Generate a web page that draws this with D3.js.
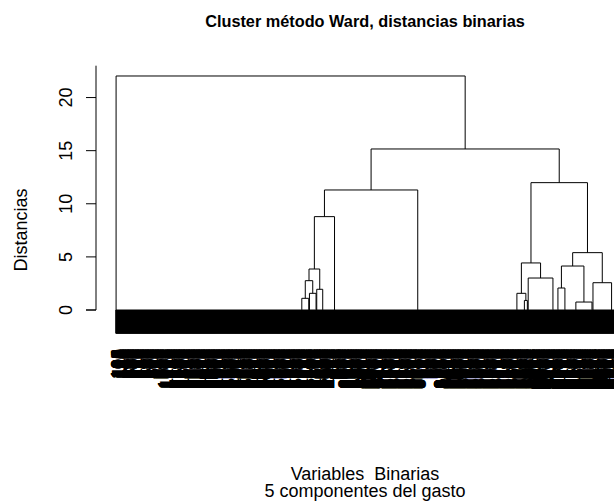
<!DOCTYPE html>
<html>
<head>
<meta charset="utf-8">
<script src="https://cdn.jsdelivr.net/npm/d3@7"></script>
<style>
  html, body { margin: 0; padding: 0; background: #fff; }
  svg { display: block; font-family: "Liberation Sans", Arial, Helvetica, sans-serif; }
</style>
</head>
<body>
<svg id="chart" width="614" height="502"></svg>
<script>
// Rows sharing the same binary pattern, one entry per pattern in dendrogram order.
// Each pattern lists its row names as [first, last] runs.
const groupLabelRuns = [
  [[104, 387], [1201, 1616], [2305, 2722]],
  [[2731, 2772]],
  [[2780, 2783]],
  [[2790, 2829]],
  [[2835, 2838]],
  [[2845, 2880]],
  [[2890, 2912], [401, 448]],
  [[452, 505], [2920, 3366]],
  [[512, 638], [3380, 3849]],
  [[3855, 3899]],
  [[3905, 3922]],
  [[3930, 3934]],
  [[4001, 4149]],
  [[4160, 4189]],
  [[4200, 4241]],
  [[4250, 4315]],
  [[4320, 4416]],
  [[4425, 4430]],
  [[4440, 4551]],
  [[4560, 4576]]
];

// Ward merges between patterns: [left, right, height]
// negative = pattern number (1-based), positive = earlier merge row (1-based)
const merges = [
  [-2, -3, 1.10],
  [-4, -5, 1.57],
  [-6, -7, 1.95],
  [1, 2, 2.76],
  [4, 3, 3.86],
  [5, -8, 8.79],
  [6, -9, 11.30],
  [-11, -12, 0.90],
  [-10, 8, 1.57],
  [-13, -14, 3.01],
  [9, 10, 4.43],
  [-15, -16, 2.07],
  [-17, -18, 0.75],
  [12, 13, 4.14],
  [-19, -20, 2.57],
  [14, 15, 5.40],
  [11, 16, 11.99],
  [7, 17, 15.16],
  [-1, 18, 22.03]
];

const yTicks = [0, 5, 10, 15, 20];
const mainTitle = "Cluster método Ward, distancias binarias";
const xLabelLines = ["Variables  Binarias", "5 componentes del gasto"];
const yLabel = "Distancias";

// ---------------------------------------------------------------
const svg = d3.select("#chart");
const plot = { left: 96, right: 634, top: 65.7, bottom: 343.7 };
const ink = "#000";

// leaves in order
const leaves = [];
groupLabelRuns.forEach((runs, g) => {
  runs.forEach(([a, b]) => {
    for (let id = a; id <= b; id++) leaves.push({ label: String(id), group: g });
  });
});
const n = leaves.length;

const maxH = d3.max(merges, m => m[2]);
const hang = 0.1 * maxH;
const xPad = 0.04 * (n - 1);
const yPad = 0.04 * (maxH + hang);

const x = d3.scaleLinear().domain([1 - xPad, n + xPad]).range([plot.left, plot.right]);
const y = d3.scaleLinear().domain([-hang - yPad, maxH + yPad]).range([plot.bottom, plot.top]);

// position range of each pattern group
const groupStart = [], groupEnd = [];
leaves.forEach((d, i) => {
  const p = i + 1;
  if (groupStart[d.group] === undefined) groupStart[d.group] = p;
  groupEnd[d.group] = p;
});

// identical rows join at height 0 as a chain (singleton on the left each time)
const groupX = groupStart.map((s, g) => {
  let cx = x(groupEnd[g]);
  for (let p = groupEnd[g] - 1; p >= s; p--) cx = (x(p) + cx) / 2;
  return cx;
});

const tree = svg.append("g").attr("fill", "none").attr("stroke", ink).attr("stroke-width", 1);

// leaf stems
const stemPath = d3.path();
leaves.forEach((d, i) => {
  const lx = x(i + 1);
  stemPath.moveTo(lx, y(0));
  stemPath.lineTo(lx, y(-hang));
});
tree.append("path").attr("d", stemPath.toString());

// zero-height joins inside each group
const zeroPath = d3.path();
groupStart.forEach((s, g) => {
  if (groupEnd[g] > s) {
    zeroPath.moveTo(x(s), y(0));
    zeroPath.lineTo(x(groupEnd[g]), y(0));
  }
});
tree.append("path").attr("d", zeroPath.toString());

// merges between groups
const nodeX = [], nodeH = [];
const childPos = c => c < 0 ? { x: groupX[-c - 1], h: 0 } : { x: nodeX[c - 1], h: nodeH[c - 1] };
const mergePath = d3.path();
merges.forEach(([a, b, h], k) => {
  const l = childPos(a), r = childPos(b);
  nodeX[k] = (l.x + r.x) / 2;
  nodeH[k] = h;
  mergePath.moveTo(l.x, y(l.h));
  mergePath.lineTo(l.x, y(h));
  mergePath.lineTo(r.x, y(h));
  mergePath.lineTo(r.x, y(r.h));
});
tree.append("path").attr("d", mergePath.toString());

// leaf labels, vertical
const labelTop = y(-hang) + 15.5;
svg.append("g")
  .attr("font-size", 18)
  .attr("fill", ink)
  .attr("text-anchor", "end")
  .selectAll("text")
  .data(leaves)
  .join("text")
  .attr("transform", (d, i) => `translate(${x(i + 1)},${labelTop}) rotate(-90)`)
  .attr("dy", "0.45em")
  .text(d => d.label);

// y axis
const yAxisTop = maxH + yPad;
const axis = svg.append("g").attr("stroke", ink).attr("fill", "none");
axis.append("path")
  .attr("d", `M${plot.left - 10},${y(0)}H${plot.left}V${y(yAxisTop)}`);
axis.selectAll("line.tick")
  .data(yTicks)
  .join("line")
  .attr("class", "tick")
  .attr("x1", plot.left - 10).attr("x2", plot.left)
  .attr("y1", d => y(d)).attr("y2", d => y(d));

svg.append("g")
  .attr("font-size", 18)
  .attr("fill", ink)
  .attr("text-anchor", "middle")
  .selectAll("text")
  .data(yTicks)
  .join("text")
  .attr("transform", d => `translate(${plot.left - 24},${y(d)}) rotate(-90)`)
  .text(d => d);

// titles, centred on the plot region
const plotCenter = (plot.left + plot.right) / 2;

svg.append("text")
  .attr("x", plotCenter).attr("y", 27)
  .attr("text-anchor", "middle")
  .attr("font-size", 16.3)
  .attr("font-weight", "bold")
  .attr("fill", ink)
  .text(mainTitle);

svg.append("text")
  .attr("transform", `translate(27,230) rotate(-90)`)
  .attr("text-anchor", "middle")
  .attr("font-size", 18)
  .attr("fill", ink)
  .text(yLabel);

svg.append("g")
  .attr("font-size", 18)
  .attr("fill", ink)
  .attr("text-anchor", "middle")
  .selectAll("text")
  .data(xLabelLines)
  .join("text")
  .attr("x", plotCenter)
  .attr("y", (d, i) => 480 + i * 17)
  .attr("xml:space", "preserve")
  .style("white-space", "pre")
  .text(d => d);
</script>
</body>
</html>
